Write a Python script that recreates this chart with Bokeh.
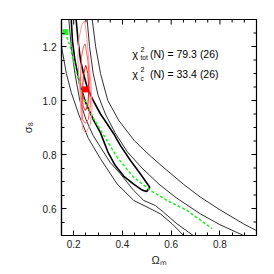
import math
from bokeh.plotting import figure
from bokeh.models import Range1d, FixedTicker, Label, PrintfTickFormatter
from bokeh.embed import file_html
from bokeh.resources import INLINE

# ---------------- data ----------------
# 3-sigma contour, lower-left branch
s3_left_om = [0.15, 0.17, 0.19, 0.22, 0.26, 0.31, 0.378, 0.446, 0.515, 0.556, 0.604, 0.651]
s3_left_s8 = [1.20, 1.10, 1.03, 0.95, 0.86, 0.784, 0.691, 0.630, 0.599, 0.580, 0.543, 0.500]
# 2-sigma contour, lower-left branch
s2_left_om = [0.18, 0.19, 0.205, 0.225, 0.25, 0.28, 0.31, 0.35, 0.392, 0.446, 0.487, 0.535, 0.569, 0.624, 0.69]
s2_left_s8 = [1.30, 1.20, 1.10, 1.00, 0.93, 0.87, 0.827, 0.77, 0.728, 0.667, 0.630, 0.611, 0.586, 0.543, 0.50]
# 1-sigma contour (closed at the bottom)
s1_om = [0.19, 0.195, 0.205, 0.225, 0.25, 0.28, 0.31, 0.34, 0.37, 0.405, 0.446, 0.481, 0.50,
         0.512, 0.474, 0.433, 0.392, 0.364, 0.337, 0.31, 0.28, 0.255, 0.24, 0.228, 0.218, 0.21]
s1_s8 = [1.30, 1.22, 1.15, 1.06, 0.99, 0.93, 0.88, 0.81, 0.76, 0.72, 0.69, 0.668, 0.663,
         0.679, 0.728, 0.778, 0.833, 0.877, 0.914, 0.95, 1.00, 1.05, 1.10, 1.15, 1.22, 1.30]
# 2-sigma contour, upper-right branch
s2_right_om = [0.255, 0.265, 0.28, 0.30, 0.33, 0.37, 0.42, 0.48, 0.55, 0.62, 0.72, 0.80, 0.897]
s2_right_s8 = [1.30, 1.20, 1.10, 1.02, 0.95, 0.88, 0.81, 0.75, 0.69, 0.64, 0.58, 0.54, 0.50]
# 3-sigma contour, upper-right branch
s3_right_om = [0.276, 0.29, 0.31, 0.34, 0.385, 0.45, 0.52, 0.583, 0.65, 0.72, 0.80, 0.897, 0.95]
s3_right_s8 = [1.30, 1.20, 1.10, 1.00, 0.926, 0.85, 0.79, 0.741, 0.69, 0.642, 0.595, 0.543, 0.518]

# green dashed relation and its end point marker
green_om = [0.166, 0.187, 0.214, 0.241, 0.282, 0.323, 0.378, 0.446, 0.515, 0.583, 0.665, 0.768]
green_s8 = [1.253, 1.193, 1.094, 1.007, 0.933, 0.872, 0.790, 0.716, 0.667, 0.630, 0.593, 0.525]
green_pt_om = [0.166]
green_pt_s8 = [1.253]

# red contours (outer, middle, inner) and best fit
red_out_om = [0.245, 0.252, 0.262, 0.272, 0.275, 0.268, 0.25, 0.238, 0.23, 0.227, 0.22, 0.217, 0.222, 0.233, 0.245]
red_out_s8 = [1.295, 1.25, 1.15, 1.05, 0.97, 0.91, 0.88, 0.89, 0.95, 1.02, 1.10, 1.16, 1.23, 1.28, 1.295]
red_mid_om = [0.247, 0.258, 0.266, 0.268, 0.26, 0.248, 0.236, 0.232, 0.228, 0.232, 0.24, 0.247]
red_mid_s8 = [1.21, 1.15, 1.06, 0.98, 0.93, 0.915, 0.93, 1.00, 1.08, 1.16, 1.20, 1.21]
red_in_om = [0.25, 0.258, 0.262, 0.258, 0.248, 0.238, 0.236, 0.24, 0.246, 0.25]
red_in_s8 = [1.13, 1.10, 1.04, 0.98, 0.963, 0.98, 1.04, 1.09, 1.12, 1.13]
red_pt_om = [0.248]
red_pt_s8 = [1.041]

x_major = [0.2, 0.4, 0.6, 0.8]
y_major = [0.6, 0.8, 1.0, 1.2]
x_minor = [0.25, 0.3, 0.35, 0.45, 0.5, 0.55, 0.65, 0.7, 0.75, 0.85, 0.9]
y_minor = [0.55, 0.65, 0.7, 0.75, 0.85, 0.9, 0.95, 1.05, 1.1, 1.15, 1.25]

chi_tot_text = "(N) = 79.3 (26)"
chi_c_text = "(N) = 33.4 (26)"
x_title = "Ωₘ"
y_title = "σ₈"

# ---------------- figure ----------------
X0, X1, Y0, Y1 = 0.15, 0.95, 0.5, 1.3
p = figure(width=270, height=270, x_range=Range1d(X0, X1), y_range=Range1d(Y0, Y1),
           output_backend="svg", toolbar_location=None,
           min_border_left=61, min_border_right=14, min_border_top=19, min_border_bottom=35)
p.grid.visible = False
p.outline_line_color = "black"
p.outline_line_width = 1.2

FONT = "Liberation Sans"
p.xaxis.ticker = FixedTicker(ticks=x_major, minor_ticks=x_minor + [0.15, 0.95])
p.yaxis.ticker = FixedTicker(ticks=y_major, minor_ticks=y_minor + [0.5, 1.3])
for ax in (p.xaxis[0], p.yaxis[0]):
    ax.formatter = PrintfTickFormatter(format="%.1f")
    ax.major_tick_in = 5
    ax.major_tick_out = 0
    ax.minor_tick_in = 3
    ax.minor_tick_out = 0
    ax.axis_line_color = "black"
    ax.axis_line_width = 1.2
    ax.major_tick_line_color = "black"
    ax.minor_tick_line_color = "black"
    ax.major_label_text_font = FONT
    ax.major_label_text_font_size = "10px"
    ax.major_label_text_color = "#222222"
    ax.axis_label_text_font = FONT
    ax.axis_label_text_font_style = "normal"
    ax.axis_label_text_font_size = "11px"
    ax.axis_label_text_color = "#222222"
p.xaxis[0].major_label_standoff = 4
p.yaxis[0].major_label_standoff = 5
p.xaxis[0].axis_label = x_title
p.yaxis[0].axis_label = y_title
p.xaxis[0].axis_label_standoff = 3
p.yaxis[0].axis_label_standoff = 6

# inward ticks along the top and right edges (half of each dash is clipped by the frame)
p.scatter(x_major, [Y1] * len(x_major), marker="dash", angle=math.pi / 2, size=10, line_color="black", line_width=1)
p.scatter(x_minor, [Y1] * len(x_minor), marker="dash", angle=math.pi / 2, size=6, line_color="black", line_width=1)
p.scatter([X1] * len(y_major), y_major, marker="dash", size=10, line_color="black", line_width=1)
p.scatter([X1] * len(y_minor), y_minor, marker="dash", size=6, line_color="black", line_width=1)

thin = "#303030"
p.line(s3_left_om, s3_left_s8, line_color=thin, line_width=1)
p.line(s2_left_om, s2_left_s8, line_color=thin, line_width=1)
p.line(s2_right_om, s2_right_s8, line_color=thin, line_width=1)
p.line(s3_right_om, s3_right_s8, line_color=thin, line_width=1)
p.line(s1_om, s1_s8, line_color="black", line_width=1.6)

p.line(green_om, green_s8, line_color="#22ee22", line_width=1.5, line_dash="3 2")
p.scatter(green_pt_om, green_pt_s8, marker="square", size=5, color="#22ee22")

p.line(red_out_om, red_out_s8, line_color="#ff9a9a", line_width=1)
p.line(red_mid_om, red_mid_s8, line_color="#ff5a5a", line_width=1)
p.line(red_in_om, red_in_s8, line_color="#ff1010", line_width=1)
p.scatter(red_pt_om, red_pt_s8, marker="square", size=5, color="#ff0000")

# annotation texts
def lab(x, y, t, size, align="left"):
    p.add_layout(Label(x=x, y=y, text=t, text_font=FONT, text_font_size=size,
                       text_color="black", text_align=align, text_baseline="middle"))

lab(0.440, 1.174, "χ", "11px")
lab(0.474, 1.190, "2", "7px")
lab(0.474, 1.158, "tot", "6.5px")
lab(0.513, 1.174, chi_tot_text, "10.5px")
lab(0.440, 1.099, "χ", "11px")
lab(0.474, 1.115, "2", "7px")
lab(0.474, 1.083, "c", "6.5px")
lab(0.513, 1.099, chi_c_text, "10.5px")

open("out.html", "w").write(file_html(p, INLINE))
